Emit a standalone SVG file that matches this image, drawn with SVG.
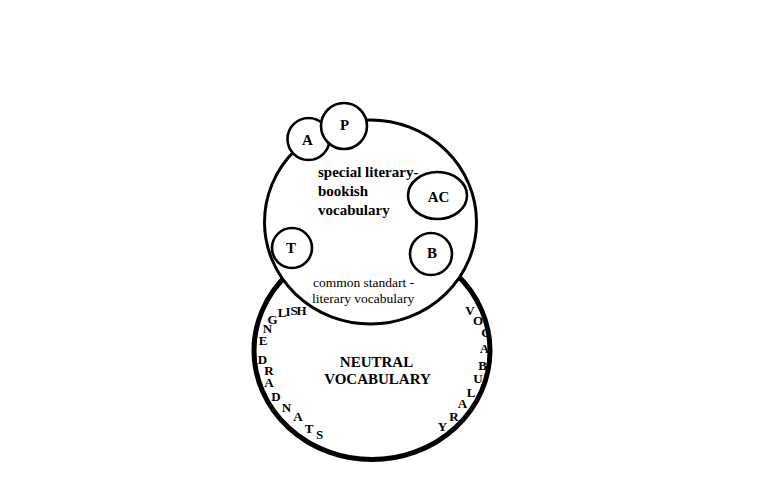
<svg xmlns="http://www.w3.org/2000/svg" width="768" height="480" viewBox="0 0 768 480">
<style>
.big{fill:#fff;stroke:#000}
.sm{fill:#fff;stroke:#000;stroke-width:2.6}
text{font-family:"Liberation Serif","Times New Roman",serif;fill:#000}
.b{font-weight:bold}
.lbl{font-weight:bold;font-size:15px;text-anchor:middle}
.arc{font-weight:bold;font-size:13px;text-anchor:middle}
</style>
<rect width="768" height="480" fill="#fff"/>
<g id="neutral">
<ellipse class="big" cx="372" cy="350.5" rx="118" ry="109" stroke-width="5"/>
<text class="b" font-size="15" text-anchor="middle" x="376.5" y="367">NEUTRAL</text>
<text class="b" font-size="15" text-anchor="middle" x="377.5" y="384">VOCABULARY</text>
</g>
<g id="standard-english">
<text class="arc" x="301.5" y="315">H</text>
<text class="arc" x="294" y="315">S</text>
<text class="arc" x="288" y="316">I</text>
<text class="arc" x="282" y="317">L</text>
<text class="arc" x="272.5" y="324">G</text>
<text class="arc" x="267.5" y="333">N</text>
<text class="arc" x="263" y="345" font-size="12">E</text>
<text class="arc" x="262.5" y="364">D</text>
<text class="arc" x="269" y="375">R</text>
<text class="arc" x="269" y="387">A</text>
<text class="arc" x="276" y="401">D</text>
<text class="arc" x="286.5" y="412">N</text>
<text class="arc" x="298" y="421">A</text>
<text class="arc" x="309" y="433">T</text>
<text class="arc" x="319.5" y="439">S</text>
</g>
<g id="vocabulary-arc">
<text class="arc" x="470" y="315">V</text>
<text class="arc" x="478" y="325">O</text>
<text class="arc" x="486" y="337">C</text>
<text class="arc" x="484.5" y="353">A</text>
<text class="arc" x="482.5" y="370">B</text>
<text class="arc" x="478" y="383">U</text>
<text class="arc" x="471" y="397">L</text>
<text class="arc" x="462.5" y="408">A</text>
<text class="arc" x="454" y="421">R</text>
<text class="arc" x="442.5" y="431">Y</text>
</g>
<g id="common">
<ellipse class="big" cx="370.5" cy="222" rx="106" ry="102" stroke-width="3"/>
<text font-size="13.5" x="313" y="287">common standart -</text>
<text font-size="13.5" x="312" y="303">literary vocabulary</text>
</g>
<g id="special-text">
<text class="b" font-size="15" x="318" y="177">special literary-</text>
<text class="b" font-size="15" x="318" y="196">bookish</text>
<text class="b" font-size="15" x="318" y="215">vocabulary</text>
</g>
<g id="A">
<circle class="sm" cx="308.5" cy="139" r="21"/>
<text class="lbl" x="307.5" y="145" font-size="14">A</text>
</g>
<g id="P">
<circle class="sm" cx="344" cy="126" r="23"/>
<text class="lbl" x="344.5" y="130" font-size="14">P</text>
</g>
<g id="AC">
<ellipse class="sm" cx="437.5" cy="195.5" rx="29.5" ry="23.5"/>
<text class="lbl" x="438.5" y="202">AC</text>
</g>
<g id="T">
<circle class="sm" cx="292" cy="248" r="20"/>
<text class="lbl" x="291" y="253" font-size="14">T</text>
</g>
<g id="B">
<circle class="sm" cx="431" cy="254" r="21"/>
<text class="lbl" x="432" y="258" font-size="14">B</text>
</g>
<g id="connectors"></g>
</svg>
